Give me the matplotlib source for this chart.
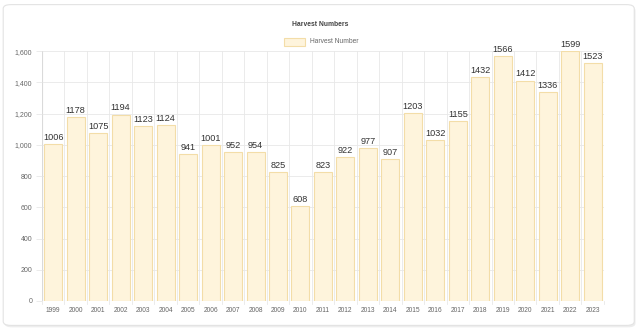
import matplotlib
matplotlib.use("Agg")
import matplotlib.pyplot as plt
from matplotlib.patches import FancyBboxPatch, Rectangle
from matplotlib.ticker import FuncFormatter

plt.rcParams['font.family'] = ['Liberation Sans', 'DejaVu Sans']

years = [str(y) for y in range(1999, 2024)]
values = [1006, 1178, 1075, 1194, 1123, 1124, 941, 1001, 952, 954, 825, 608, 823,
          922, 977, 907, 1203, 1032, 1155, 1432, 1566, 1412, 1336, 1599, 1523]
yticks = [0, 200, 400, 600, 800, 1000, 1200, 1400, 1600]

fill = "#FEF4DC"
edge = "#F3DDA8"
grid_c = "#E8E8E8"
txt_c = "#666666"

fig = plt.figure(figsize=(6.4, 3.3), dpi=100)
fig.patch.set_facecolor("white")

# card background with shadow
shadow = FancyBboxPatch((0.007, 0.008), 0.986, 0.972, boxstyle="round,pad=0,rounding_size=0.012",
                        transform=fig.transFigure, facecolor="#EDEDED", edgecolor="none", zorder=-3)
card = FancyBboxPatch((0.005, 0.014), 0.986, 0.972, boxstyle="round,pad=0,rounding_size=0.012",
                      transform=fig.transFigure, facecolor="white", edgecolor="#E3E3E3", linewidth=0.8, zorder=-2)
fig.patches.extend([shadow, card])

ax = fig.add_axes([0.0656, 0.088, 0.878, 0.757])
ax.set_facecolor("none")
x = list(range(len(years)))
ax.bar(x, values, width=0.8, color=fill, edgecolor=edge, linewidth=0.8, zorder=2)

for xi, v in zip(x, values):
    ax.text(xi, v + 26, str(v), ha="center", va="baseline", fontsize=6.6, color="#333333", zorder=3)

ax.set_xlim(-0.5, len(years) - 0.5)
ax.set_ylim(0, 1600)
ax.set_xticks(x)
ax.set_xticklabels(years, fontsize=4.8, color=txt_c)
ax.tick_params(axis="x", length=0, pad=4)
ax.set_yticks(yticks)
ax.yaxis.set_major_formatter(FuncFormatter(lambda v, p: f"{int(v):,}"))
ax.tick_params(axis="y", labelsize=5.0, colors=txt_c, length=4, color=grid_c, width=0.6, pad=3)
ax.tick_params(axis="y", labelcolor=txt_c)

# vertical grid at category boundaries
for b in [i - 0.5 for i in range(len(years) + 1)]:
    ax.axvline(b, color=grid_c, linewidth=0.6, zorder=1)
    ax.plot([b, b], [0, -22], color=grid_c, linewidth=0.6, clip_on=False, zorder=1)
for yv in yticks:
    ax.axhline(yv, color=grid_c, linewidth=0.6, zorder=1)

for s in ax.spines.values():
    s.set_visible(False)
ax.axhline(0, color="#DADADA", linewidth=0.8, zorder=1)
ax.axvline(-0.5, color="#DADADA", linewidth=0.8, zorder=1)

fig.text(0.5, 0.927, "Harvest Numbers", ha="center", va="center", fontsize=4.9,
         fontweight="bold", color="#444444")
# legend
fig.patches.append(Rectangle((0.443, 0.862), 0.034, 0.022, transform=fig.transFigure,
                             facecolor=fill, edgecolor=edge, linewidth=0.8))
fig.text(0.484, 0.873, "Harvest Number", ha="left", va="center", fontsize=4.8, color=txt_c)

fig.savefig("out.png", dpi=100)
